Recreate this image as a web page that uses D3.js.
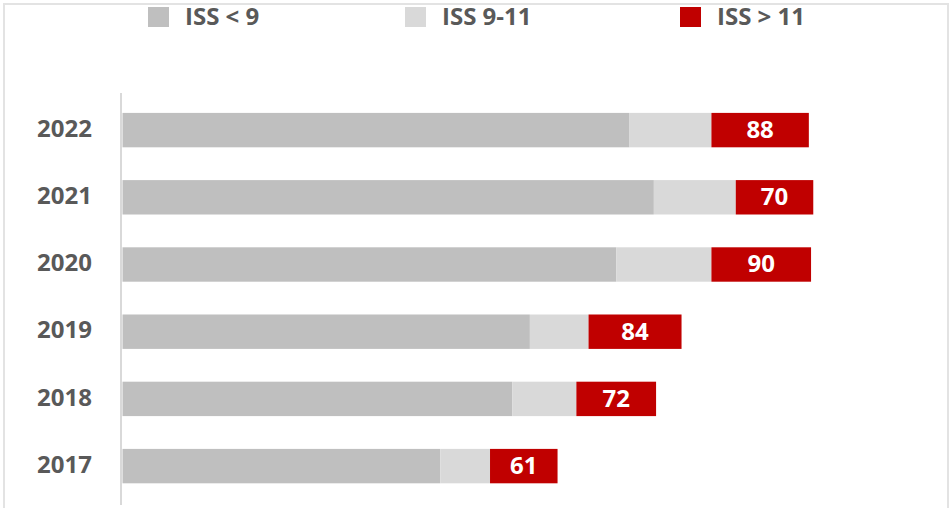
<!DOCTYPE html>
<html>
<head>
<meta charset="utf-8">
<script src="https://cdn.jsdelivr.net/npm/d3@7"></script>
<style>
  html, body { margin: 0; padding: 0; background: #ffffff; }
  svg { display: block; }
  text { font-family: "Open Sans", "Liberation Sans", sans-serif; font-weight: 700; }
</style>
</head>
<body>
<svg id="chart" width="951" height="508"></svg>
<script>
// ---- data ----
const years = ["2022", "2021", "2020", "2019", "2018", "2017"];
const seriesNames = ["ISS < 9", "ISS 9-11", "ISS > 11"];
const issLow = [458, 480, 446, 368, 352, 287];
const issMid = [74, 74, 86, 53, 58, 45];
const issHigh = [88, 70, 90, 84, 72, 61];
const colors = ["#bfbfbf", "#d9d9d9", "#c00000"];

(function () {
  // ---- layout ----
  const W = 951, H = 508;
  const x0 = 122.5, pxPerUnit = 1.107;
  const maxVal = (W - x0) / pxPerUnit;
  const legendX = [148, 405, 680];

  const svg = d3.select("#chart");

  // frame
  svg.append("path")
    .attr("d", `M4,${H} L4,4 L948,4 L948,${H}`)
    .attr("fill", "none").attr("stroke", "#e3e3e3").attr("stroke-width", 2);

  const rows = years.map((yr, i) => ({ year: yr, low: issLow[i], mid: issMid[i], high: issHigh[i] }));
  const keys = ["low", "mid", "high"];
  const stacked = d3.stack().keys(keys)(rows);

  const x = d3.scaleLinear().domain([0, maxVal]).range([x0, W]);
  const y = d3.scaleBand().domain(years).range([96.5, 499.7]).paddingInner(0.488).paddingOuter(0.244);

  // axis line
  svg.append("line")
    .attr("x1", 121).attr("x2", 121).attr("y1", 93).attr("y2", 505)
    .attr("stroke", "#d9d9d9").attr("stroke-width", 2);

  // category labels via axis
  const yAxis = d3.axisLeft(y).tickSize(0).tickPadding(0);
  const gAxis = svg.append("g").attr("transform", "translate(92,0)").call(yAxis);
  gAxis.select(".domain").remove();
  gAxis.selectAll("text")
    .attr("font-size", 24).attr("fill", "#595959")
    .attr("font-family", "'Open Sans', sans-serif").attr("font-weight", 700)
    .attr("dy", "0.28em");

  // bars
  stacked.forEach((layer, li) => {
    svg.append("g").selectAll("rect")
      .data(layer).join("rect")
      .attr("x", d => x(d[0]))
      .attr("y", d => y(d.data.year))
      .attr("width", d => x(d[1]) - x(d[0]))
      .attr("height", y.bandwidth())
      .attr("fill", colors[li]);
  });

  // value labels in red segments
  const highLayer = stacked[2];
  svg.append("g").selectAll("text")
    .data(highLayer).join("text")
    .attr("x", d => (x(d[0]) + x(d[1])) / 2)
    .attr("y", d => y(d.data.year) + y.bandwidth() / 2)
    .attr("dy", "0.33em")
    .attr("text-anchor", "middle")
    .attr("font-size", 24)
    .attr("fill", "#ffffff")
    .text(d => d.data.high);

  // legend
  const lg = svg.append("g").selectAll("g")
    .data(seriesNames).join("g")
    .attr("transform", (d, i) => `translate(${legendX[i]},7)`);
  lg.append("rect").attr("width", 21).attr("height", 20).attr("fill", (d, i) => colors[i]);
  lg.append("text")
    .attr("x", 37).attr("y", 10).attr("dy", "0.35em")
    .attr("font-size", 24).attr("fill", "#595959")
    .text(d => d);
})();
</script>
</body>
</html>
